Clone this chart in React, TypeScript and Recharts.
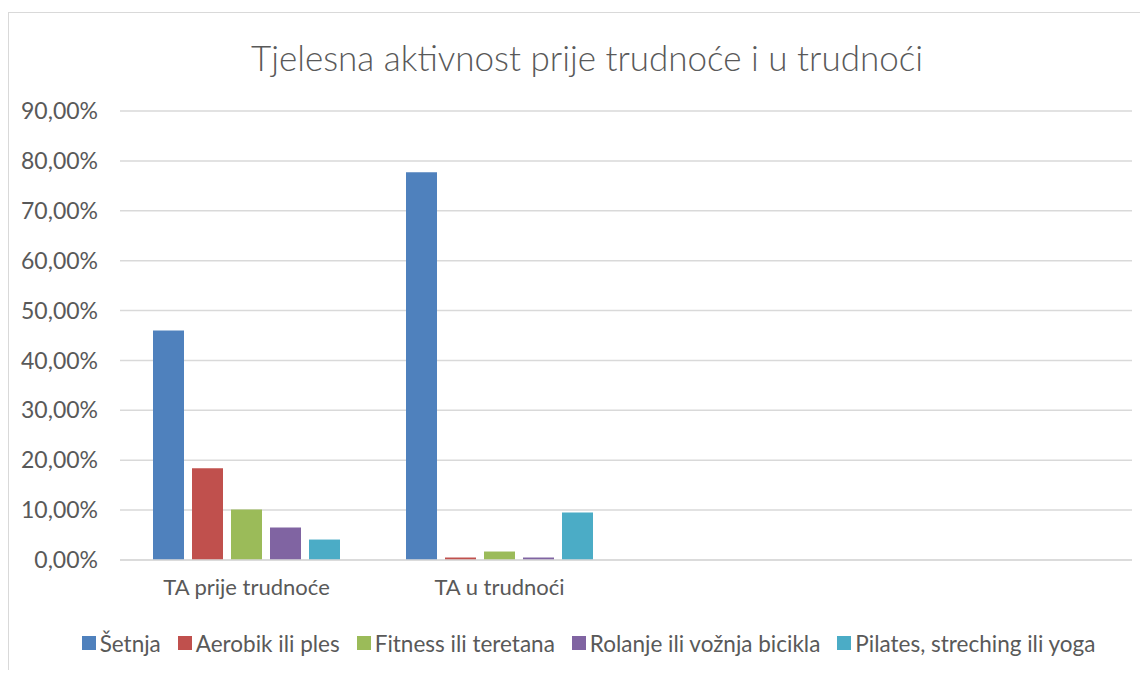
import { BarChart, Bar, XAxis, YAxis, CartesianGrid, Legend } from "recharts"

const categories = ["TA prije trudnoće", "TA u trudnoći", "", ""]
const seriesNames = [
  "Šetnja",
  "Aerobik ili ples",
  "Fitness ili teretana",
  "Rolanje ili vožnja bicikla",
  "Pilates, streching ili yoga",
]
const seriesColors = ["#4F81BD", "#C0504D", "#9BBB59", "#8064A2", "#4BACC6"]
// one array per category, in series order
const prijeValues = [0.46, 0.184, 0.101, 0.065, 0.041]
const trudnociValues = [0.777, 0.005, 0.017, 0.005, 0.095]
const yTicks = [0, 0.1, 0.2, 0.3, 0.4, 0.5, 0.6, 0.7, 0.8, 0.9]

const valuesByCategory = [prijeValues, trudnociValues, null, null]

const data = categories.map((name, i) => {
  const row: Record<string, string | number | null> = { name }
  seriesNames.forEach((s, j) => {
    const vals = valuesByCategory[i]
    row[s] = vals ? vals[j] : null
  })
  return row
})

const FONT = "Lato, 'Open Sans', sans-serif"
const TEXT = "#595959"

function fmtPct(v: number) {
  return (v * 100).toFixed(2).replace(".", ",") + "%"
}

function LegendContent() {
  return (
    <div style={{ display: "flex", justifyContent: "center", alignItems: "center", height: 30, paddingLeft: 36 }}>
      {seriesNames.map((s, i) => (
        <div key={s} style={{ display: "flex", alignItems: "center", marginRight: i < seriesNames.length - 1 ? 17 : 0 }}>
          <div style={{ width: 14, height: 14, background: seriesColors[i], marginRight: 4 }} />
          <span style={{ fontFamily: FONT, fontSize: 22.5, color: TEXT }}>{s}</span>
        </div>
      ))}
    </div>
  )
}

export default function App() {
  return (
    <div
      style={{
        position: "relative",
        marginTop: 4,
        width: 1139,
        height: 657,
        borderTop: "1px solid #d9d9d9",
        borderLeft: "1px solid #d9d9d9",
        background: "#fff",
        overflow: "hidden",
      }}
    >
      <div
        style={{
          position: "absolute",
          left: 578,
          top: 23,
          transform: "translateX(-50%)",
          whiteSpace: "nowrap",
          fontFamily: FONT,
          fontWeight: 300,
          fontSize: 35,
          color: TEXT,
        }}
      >
        Tjelesna aktivnost prije trudnoće i u trudnoći
      </div>
      <BarChart
        width={1139}
        height={657}
        data={data}
        margin={{ top: 98, right: 16, bottom: 40, left: 0 }}
        barSize={31}
        barGap={8}
      >
        <CartesianGrid vertical={false} stroke="#d9d9d9" strokeWidth={1.5} />
        <XAxis
          dataKey="name"
          height={40}
          tickLine={false}
          axisLine={{ stroke: "#d9d9d9", strokeWidth: 1.5 }}
          tickSize={0}
          tickMargin={19}
          tick={{ fill: TEXT, fontSize: 22, fontFamily: FONT }}
          interval={0}
        />
        <YAxis
          width={111}
          domain={[0, 0.9]}
          ticks={yTicks}
          tickFormatter={fmtPct}
          axisLine={false}
          tickLine={false}
          tickSize={0}
          tickMargin={22}
          tick={{ fill: TEXT, fontSize: 23, fontFamily: FONT }}
        />
        <Legend verticalAlign="bottom" content={<LegendContent />} wrapperStyle={{ bottom: 12 }} />
        {seriesNames.map((s, i) => (
          <Bar key={s} dataKey={s} fill={seriesColors[i]} isAnimationActive={false} />
        ))}
      </BarChart>
    </div>
  )
}
